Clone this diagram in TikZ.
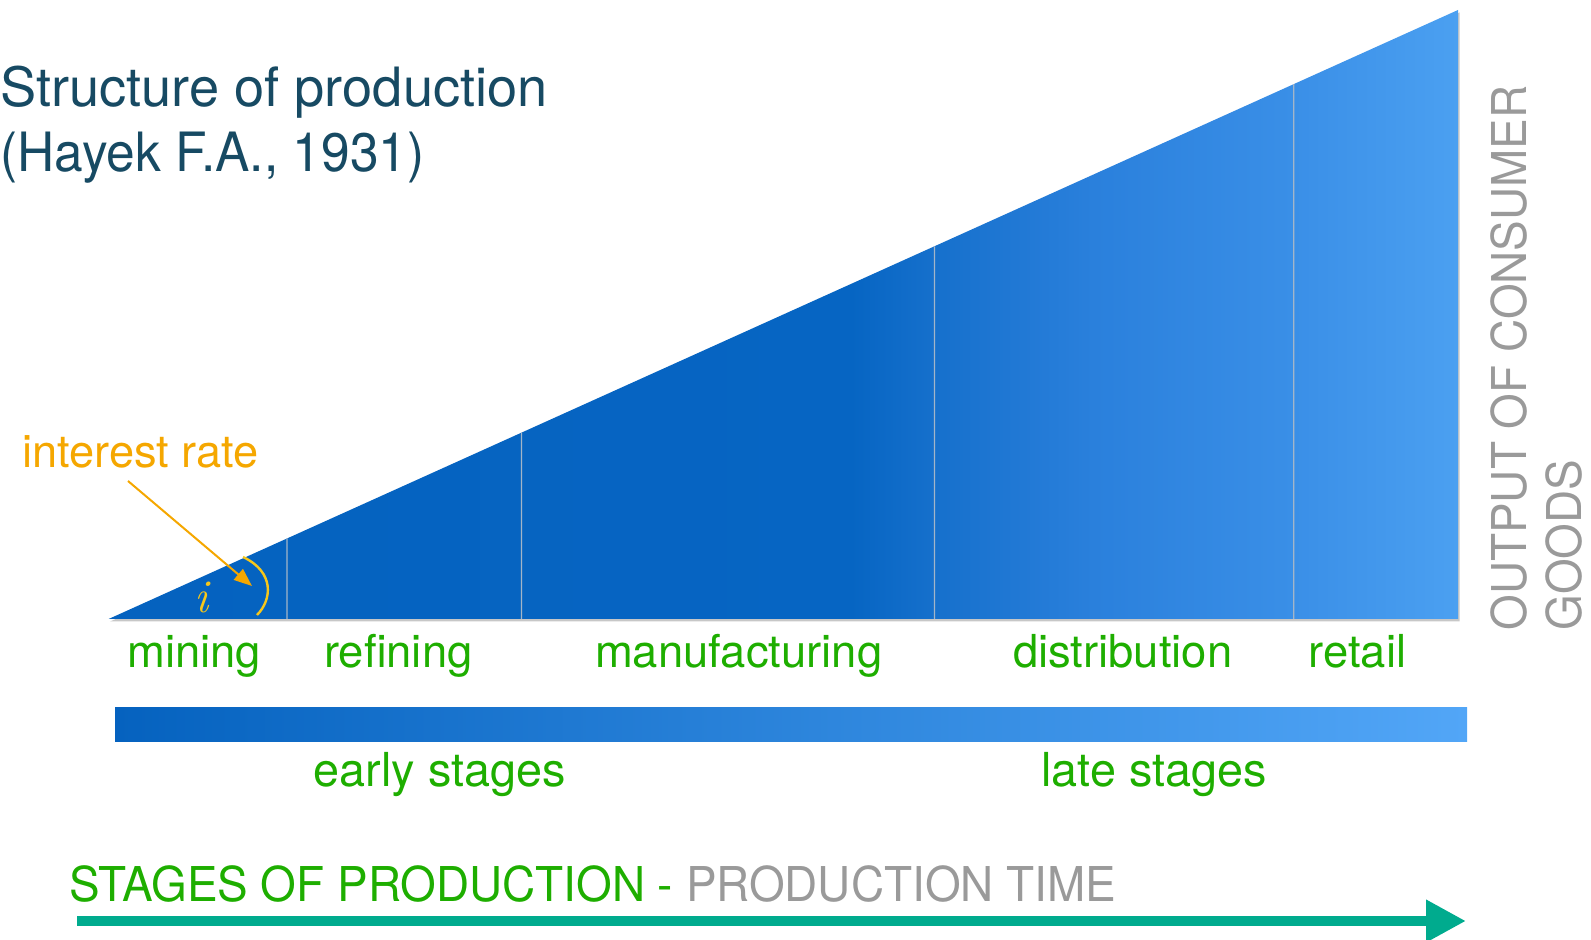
\documentclass[tikz,border=0pt]{standalone}
\usepackage{fontspec}
\usepackage{graphicx}
\newfontfamily\hv{TeX Gyre Heros}
\newfontfamily\hvc[FakeStretch=0.956]{TeX Gyre Heros}
\usetikzlibrary{arrows.meta,calc}
\definecolor{titleblue}{HTML}{174A63}
\definecolor{stagegreen}{HTML}{1EAE00}
\definecolor{irorange}{HTML}{F5A700}
\definecolor{iryellow}{HTML}{F7C71A}
\definecolor{axisgray}{HTML}{9A9A9A}
\definecolor{arrowteal}{HTML}{00AB8E}
\definecolor{divline}{HTML}{A3B5C8}
\definecolor{bluea}{HTML}{0562BF}
\definecolor{blueb}{HTML}{0665C3}
\definecolor{bluec}{HTML}{1670CC}
\definecolor{blued}{HTML}{2A80DC}
\definecolor{bluee}{HTML}{3A8FE7}
\definecolor{bluef}{HTML}{4BA0F1}
\definecolor{barright}{HTML}{52A6F7}
\pgfdeclarehorizontalshading{trishade}{100bp}{color(0bp)=(bluea); color(25bp)=(bluea); color(52.5bp)=(blueb); color(55.6bp)=(bluec); color(61.5bp)=(blued); color(68.9bp)=(bluee); color(75bp)=(bluef); color(100bp)=(bluef)}
\tikzset{
  stagelabel/.style={anchor=base, inner sep=0, text=stagegreen, font=\hv\fontsize{22.7}{27}\selectfont},
  phaselabel/.style={anchor=base west, inner sep=0, text=stagegreen, font=\hv\fontsize{23.4}{28}\selectfont},
  divider/.style={draw=divline, line width=0.6pt},
  caps/.style={inner sep=0, font=\hvc\fontsize{24}{27.5}\selectfont},
  titletext/.style={anchor=base west, inner sep=0, text=titleblue, font=\hv\fontsize{27.1}{32}\selectfont},
}
\begin{document}
\begin{tikzpicture}[x=0.5pt, y=-0.5pt]
\useasboundingbox (0,0) rectangle (1591,940);
% triangle corners
\coordinate (A) at (108.6,619);
\coordinate (B) at (1458,619);
\coordinate (C) at (1458,10);
% shadow
\fill[black, opacity=0.22] ([shift={(1.5,2.5)}]A) -- ([shift={(1.5,2.5)}]B) -- ([shift={(1.5,2.5)}]C) -- cycle;
\shade[shading=trishade] (A) -- (B) -- (C) -- cycle;
% dividers
\foreach \f/\x in {0.1322/287, 0.306/521.5, 0.612/934.5, 0.8782/1293.7}{
  \draw[divider] (\x,619) -- ($(A)!\f!(C)$);
}
% title
\node[titletext] (t1) at (0,107) {Structure of production};
\node[titletext] (t2) at (0,172) {\scalebox{0.95}[1]{(Hayek F.A., 1931)}};
% interest rate
\node[anchor=base west, inner sep=0, text=irorange, font=\hv\fontsize{22.6}{27}\selectfont] (ir) at (22,468) {interest rate};
\coordinate (irs) at (128,481);
\coordinate (ire) at (252,586);
\draw[irorange, line width=1pt, -{Triangle[length=9pt,width=7pt]}] (irs) -- (ire);
\coordinate (arcA) at (243,557);
\coordinate (arcB) at (257,615);
\draw[iryellow, line width=1.2pt] (arcA) .. controls (275,572) and (272,600) .. (arcB);
\node[anchor=base, inner sep=0, text=iryellow, font=\rmfamily\itshape\fontsize{23.5}{27}\selectfont] (ii) at (201.7,612.7) {i};
% stage labels
\node[stagelabel] (mining) at (194.3,668) {mining};
\node[stagelabel] (refining) at (398.3,668) {refining};
\node[stagelabel] (manuf) at (738.7,668) {manufacturing};
\node[stagelabel] (distr) at (1122.7,668) {distribution};
\node[stagelabel] (retail) at (1357.6,668) {retail};
% gradient bar
\shade[left color=bluea, right color=barright] (115,708) rectangle (1467,742);
\node[phaselabel] (early) at (313.5,786) {early stages};
\node[phaselabel] (late) at (1041,786) {late stages};
% vertical axis label
\node[caps, rotate=90, anchor=north west, align=left, text=axisgray] (out) at (1490,631) {OUTPUT OF CONSUMER\\GOODS};
% bottom
\node[caps, anchor=base west] (stages) at (69,901) {\textcolor{stagegreen}{STAGES OF PRODUCTION -} \textcolor{axisgray}{PRODUCTION TIME}};
\coordinate (ts) at (77,921);
\coordinate (te) at (1466,921);
\draw[arrowteal, line width=5.25pt, -{Triangle[length=20pt,width=20pt]}] (ts) -- (te);
\end{tikzpicture}
\end{document}
